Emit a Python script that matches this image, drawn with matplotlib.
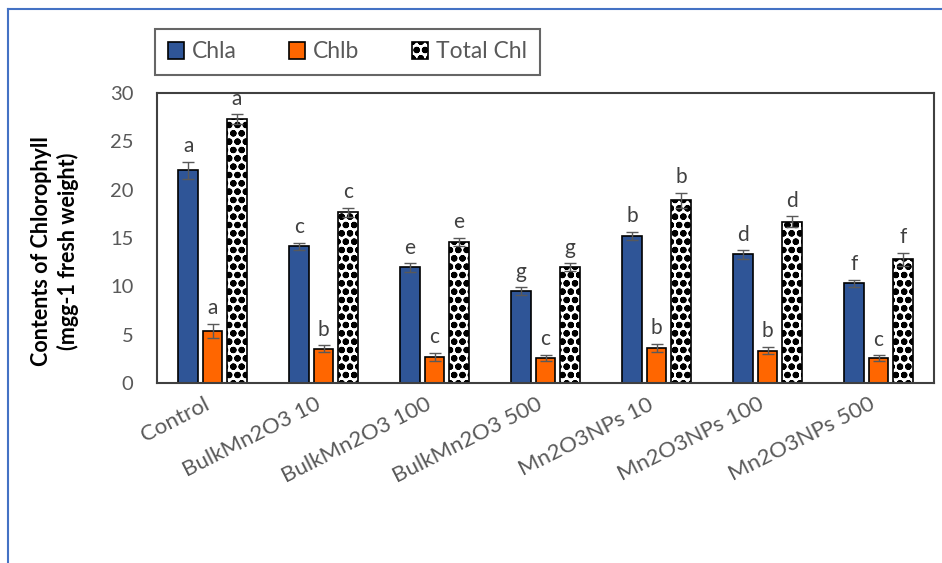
import matplotlib
matplotlib.use("Agg")
import matplotlib.pyplot as plt
import numpy as np
from matplotlib.lines import Line2D
from matplotlib.patches import Patch

plt.rcParams['font.family'] = ['Lato', 'DejaVu Sans']
plt.rcParams['hatch.linewidth'] = 2.2

categories = ["Control", "BulkMn2O3 10", "BulkMn2O3 100", "BulkMn2O3 500",
              "Mn2O3NPs 10", "Mn2O3NPs 100", "Mn2O3NPs 500"]
chla = [22.0, 14.15, 11.95, 9.5, 15.2, 13.3, 10.3]
chla_err = [0.9, 0.35, 0.45, 0.4, 0.45, 0.45, 0.4]
chlb = [5.4, 3.55, 2.7, 2.6, 3.65, 3.35, 2.55]
chlb_err = [0.7, 0.35, 0.45, 0.3, 0.4, 0.4, 0.3]
total = [27.3, 17.65, 14.6, 12.0, 18.9, 16.7, 12.8]
total_err = [0.5, 0.5, 0.4, 0.4, 0.8, 0.55, 0.65]
chla_letters = ["a", "c", "e", "g", "b", "d", "f"]
chlb_letters = ["a", "b", "c", "c", "b", "b", "c"]
total_letters = ["a", "c", "e", "g", "b", "d", "f"]
yticks = [0, 5, 10, 15, 20, 25, 30]

fig = plt.figure(figsize=(9.42, 5.63), dpi=100)
ax = fig.add_axes([157/942, 1-383/563, (934-157)/942, (383-93)/563])

x = np.arange(len(categories))
w = 0.18
off = 0.22
gray = "#595959"
series = [
    (chla, chla_err, chla_letters, "#2F5597", None, "Chla", -off),
    (chlb, chlb_err, chlb_letters, "#FF6600", None, "Chlb", 0.0),
    (total, total_err, total_letters, "white", "oo", "Total Chl", off),
]
for vals, errs, lets, col, hatch, lab, o in series:
    ax.bar(x + o, vals, width=w, color=col, edgecolor="black", linewidth=1.2,
           hatch=hatch, label=lab, zorder=2)
    ax.errorbar(x + o, vals, yerr=errs, fmt="none", ecolor=gray, elinewidth=1,
                capsize=4, capthick=1, zorder=3)
    for xi, v, e, l in zip(x + o, vals, errs, lets):
        ax.annotate(l, (xi, v + e), xytext=(0, 4), textcoords="offset points",
                    ha="center", va="bottom", fontsize=15, color="#404040")

ax.set_xlim(-0.5, len(categories) - 0.5)
ax.set_ylim(0, 30)
ax.set_yticks(yticks)
ax.set_yticklabels([str(t) for t in yticks], fontsize=14.5, color=gray)
ax.set_xticks(x)
ax.set_xticklabels(categories, rotation=27, ha="right", va="top",
                   fontsize=16, color=gray)
ax.tick_params(axis="y", length=0, pad=17)
ax.tick_params(axis="x", length=0, pad=8)
for s in ax.spines.values():
    s.set_color("#404040")
    s.set_linewidth(1.5)

ax.set_ylabel("Contents of Chlorophyll\n(mgg-1 fresh weight)", fontsize=15.5,
              fontweight="bold", color="black", linespacing=1.25)
ax.yaxis.set_label_coords(-0.101, 0.455)

handles = [Patch(facecolor="#2F5597", edgecolor="black", linewidth=1.2),
           Patch(facecolor="#FF6600", edgecolor="black", linewidth=1.2),
           Patch(facecolor="white", edgecolor="black", hatch="oo", linewidth=1.2)]
leg = fig.legend(handles, ["Chla", "Chlb", "Total Chl"], ncol=3,
                 loc="center", bbox_to_anchor=((160+535)/2/942, 1-52/563),
                 frameon=True, fancybox=False, fontsize=16.5,
                 handlelength=0.7, handleheight=0.7, handletextpad=0.35,
                 columnspacing=2.3, borderpad=0.55, borderaxespad=0)
for t in leg.get_texts():
    t.set_color(gray)
fr = leg.get_frame()
fr.set_edgecolor("#404040")
fr.set_linewidth(1.5)

blue = "#4472C4"
fig.add_artist(Line2D([8/942, 1], [1-9/563, 1-9/563], color=blue, lw=1.5,
                      transform=fig.transFigure))
fig.add_artist(Line2D([8/942, 8/942], [0, 1-9/563], color=blue, lw=1.5,
                      transform=fig.transFigure))

fig.savefig("out.png", dpi=100)
